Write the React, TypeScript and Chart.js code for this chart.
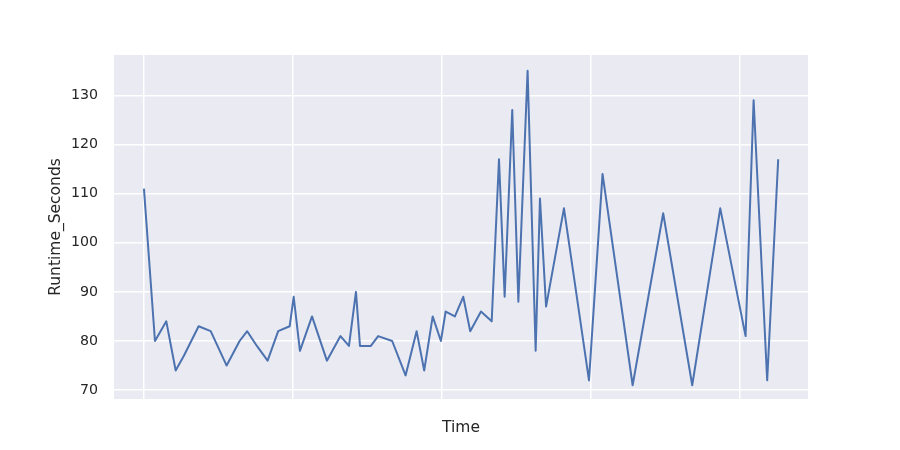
import React, { useEffect, useRef } from "react";
import { Chart, registerables } from "chart.js";

Chart.register(...registerables);

// Time positions (arbitrary linear units, gridlines every 10)
const timeValues: number[] = [
  0, 0.74, 1.5, 2.13, 2.68, 3.67, 4.48, 5.55, 6.42, 6.93,
  7.58, 8.3, 9.01, 9.78, 10.05, 10.47, 11.28, 12.28, 13.19, 13.76,
  14.23, 14.5, 15.23, 15.72, 16.66, 17.56, 18.3, 18.81, 19.38, 19.93,
  20.25, 20.87, 21.43, 21.9, 22.62, 23.34, 23.83, 24.21, 24.72, 25.13,
  25.75, 26.29, 26.58, 26.99, 28.19, 29.87, 30.78, 32.8, 34.85, 36.8,
  38.68, 40.38, 40.92, 41.83, 42.57,
];

const runtimeSeconds: number[] = [
  111, 80, 84, 74, 77, 83, 82, 75, 80, 82,
  79, 76, 82, 83, 89, 78, 85, 76, 81, 79,
  90, 79, 79, 81, 80, 73, 82, 74, 85, 80,
  86, 85, 89, 82, 86, 84, 117, 89, 127, 88,
  135, 78, 109, 87, 107, 72, 114, 71, 106, 71,
  107, 81, 129, 72, 117,
];

const yTicks: number[] = [70, 80, 90, 100, 110, 120, 130];
const xGridTicks: number[] = [0, 10, 20, 30, 40];

const FONT = "'DejaVu Sans', sans-serif";
const TEXT = "#262626";

export default function App() {
  const ref = useRef<HTMLCanvasElement | null>(null);

  useEffect(() => {
    document.body.style.margin = "0";
    const canvas = ref.current;
    if (!canvas) return;

    const bgPlugin = {
      id: "plotBg",
      beforeDraw(chart: any) {
        const { ctx, chartArea } = chart;
        ctx.save();
        ctx.fillStyle = "#ffffff";
        ctx.fillRect(0, 0, chart.width, chart.height);
        ctx.fillStyle = "#EAEAF2";
        ctx.fillRect(
          chartArea.left,
          chartArea.top,
          chartArea.right - chartArea.left,
          chartArea.bottom - chartArea.top
        );
        ctx.restore();
      },
    };

    const chart = new Chart(canvas, {
      type: "line",
      data: {
        datasets: [
          {
            label: "Runtime_Seconds",
            data: timeValues.map((t, i) => ({ x: t, y: runtimeSeconds[i] })),
            borderColor: "#4C72B0",
            backgroundColor: "#4C72B0",
            borderWidth: 2,
            borderJoinStyle: "round",
            borderCapStyle: "butt",
            pointRadius: 0,
            tension: 0,
            fill: false,
          },
        ],
      },
      options: {
        responsive: false,
        animation: false,
        events: [],
        layout: { padding: { left: 0, top: 55, right: 92, bottom: 0 } },
        plugins: {
          legend: { display: false },
          tooltip: { enabled: false },
        },
        scales: {
          x: {
            type: "linear",
            min: -2.01,
            max: 44.57,
            afterBuildTicks: (scale: any) => {
              scale.ticks = xGridTicks.map((v) => ({ value: v }));
            },
            afterFit: (scale: any) => {
              scale.height = 51;
            },
            ticks: { display: false },
            grid: { color: "#ffffff", lineWidth: 1.5, drawTicks: false },
            border: { display: false },
            title: {
              display: true,
              text: "Time",
              color: TEXT,
              font: { family: FONT, size: 15.5 },
              padding: { top: 0, bottom: 12.5 },
            },
          },
          y: {
            type: "linear",
            min: 68.2,
            max: 138.2,
            afterBuildTicks: (scale: any) => {
              scale.ticks = yTicks.map((v) => ({ value: v }));
            },
            afterFit: (scale: any) => {
              scale.width = 114;
            },
            ticks: {
              color: TEXT,
              font: { family: FONT, size: 14.2 },
              padding: 16,
            },
            grid: { color: "#ffffff", lineWidth: 1.5, drawTicks: false },
            border: { display: false },
            title: {
              display: true,
              text: "Runtime_Seconds",
              color: TEXT,
              font: { family: FONT, size: 15.5 },
              padding: { top: 47, bottom: 0 },
            },
          },
        },
      },
      plugins: [bgPlugin],
    });

    return () => chart.destroy();
  }, []);

  return (
    <div style={{ position: "fixed", left: 0, top: 0, width: 900, height: 450 }}>
      <canvas ref={ref} width={900} height={450} style={{ width: 900, height: 450 }} />
    </div>
  );
}
